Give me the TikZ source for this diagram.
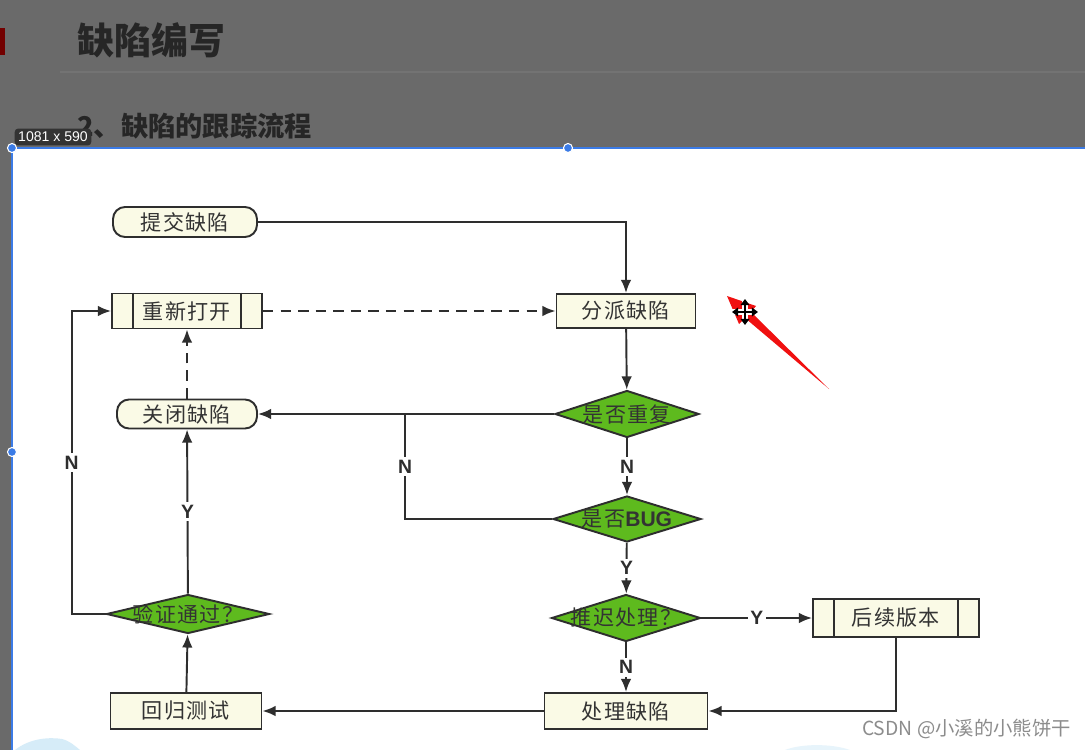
\documentclass[tikz,border=0pt]{standalone}
\usepackage{fontspec}
\setmainfont{Noto Sans CJK SC}
\newfontfamily\cjk{Noto Sans CJK SC}[LetterSpace=6]
\newfontfamily\latin{Liberation Sans}
\usetikzlibrary{shapes.geometric,arrows.meta}
\definecolor{linegray}{HTML}{2E2E2E}
\definecolor{textgray}{HTML}{333333}
\definecolor{boxfill}{HTML}{FAFAE6}
\definecolor{diagreen}{RGB}{94,186,30}
\definecolor{screengray}{HTML}{6A6A6A}
\definecolor{titledark}{HTML}{262626}
\definecolor{selblue}{HTML}{3B7BE6}
\definecolor{markred}{HTML}{F01010}
\definecolor{cloudblue}{HTML}{D6ECF8}
\def\dz#1{\makebox[0pt]{#1}}

\begin{document}
\begin{tikzpicture}[x=0.02cm,y=-0.02cm,
    box/.style={draw=linegray,line width=1.1pt,fill=boxfill,text=textgray,
      font=\cjk\fontsize{12}{12}\selectfont,inner sep=0pt},
    rbox/.style={box,rounded corners=0.24cm},
    dia/.style={box,diamond,fill=diagreen,aspect=3},
    flow/.style={draw=linegray,line width=1.1pt,-{Latex[length=7.5pt,width=6pt]}},
    plain/.style={draw=linegray,line width=1.1pt},
    lbl/.style={fill=white,text=linegray,inner sep=1.5pt,
      font=\latin\bfseries\fontsize{11}{11}\selectfont}]
% screenshot around the chart
\useasboundingbox (0,0) rectangle (1085,750);
\fill[screengray] (0,0) rectangle (1085,750);
\fill[white] (12,148) rectangle (1085,750);
\fill[red!45!black] (0,28) rectangle (5,55);
\draw[screengray!94!white,line width=0.6pt] (60,72) -- (1085,72);
\node[anchor=west,inner sep=0pt,text=titledark,font=\bfseries\fontsize{21}{21}\selectfont] (ttl) at (77,40) {缺陷编写};
\node[anchor=west,inner sep=0pt,text=titledark,font=\bfseries\fontsize{15.5}{16}\selectfont] (sub) at (77,126) {2、缺陷的跟踪流程};
\fill[cloudblue] (15,750) .. controls (30,738) and (50,737) .. (62,739) .. controls (70,741) and (75,746) .. (80,750) -- cycle;
\fill[cloudblue!60!white] (785,750) .. controls (800,744) and (830,743) .. (850,750) -- cycle;
\draw[selblue,line width=1pt] (12,750) -- (12,148) -- (1085,148);
\node[fill=black!80,rounded corners=2pt,text=white,inner sep=2pt,
  font=\latin\fontsize{8}{8}\selectfont] (tag) at (53,137) {1081 x 590};
\foreach \hx/\hy in {12/148,568/148,12/452}
  \filldraw[fill=selblue,draw=white,line width=0.6pt] (\hx,\hy) circle (0.09cm);

% flowchart nodes
\node[rbox,minimum width=2.88cm,minimum height=0.6cm] (submit) at (185,222) {提交缺陷};
\node[box,minimum width=3.0cm,minimum height=0.7cm] (reopen) at (187,311) {重新打开};
\node[box,minimum width=2.78cm,minimum height=0.68cm] (assign) at (626,311) {分派缺陷};
\node[rbox,minimum width=2.8cm,minimum height=0.58cm] (close) at (187,414) {关闭缺陷};
\node[dia,minimum width=2.88cm,minimum height=0.94cm] (dup) at (627,414) {\dz{是否重复}};
\node[dia,minimum width=2.96cm,minimum height=0.92cm] (bug) at (627,519) {\dz{是否{\latin\bfseries BUG}}};
\node[dia,minimum width=2.98cm,minimum height=0.94cm] (defer) at (626,618) {\dz{推迟处理？}};
\node[box,minimum width=3.32cm,minimum height=0.76cm] (later) at (896,618) {后续版本};
\node[dia,minimum width=3.26cm,minimum height=0.78cm] (verify) at (188,614) {\dz{验证通过？}};
\node[box,minimum width=3.02cm,minimum height=0.72cm] (regress) at (186,711) {回归测试};
\node[box,minimum width=3.26cm,minimum height=0.72cm] (handle) at (626,711) {处理缺陷};
\coordinate (join) at (405,414);

% side bars of the two process boxes
\foreach \n in {reopen,later} {
  \draw[plain] ([xshift=0.44cm]\n.north west) -- ([xshift=0.44cm]\n.south west);
  \draw[plain] ([xshift=-0.44cm]\n.north east) -- ([xshift=-0.44cm]\n.south east);
}

% connectors
\draw[flow] (submit.east) -| (assign.north);
\draw[flow,dashed,dash pattern=on 6pt off 4pt] (reopen.east) -- (assign.west);
\draw[flow] (assign) -- (dup);
\draw[flow] (dup.west) -- (close.east);
\draw[flow] (dup) -- node[lbl]{N} (bug);
\draw[plain] (bug.west) -| node[lbl,pos=0.75]{N} (join);
\draw[flow] (bug) -- node[lbl]{Y} (defer);
\draw[flow] (defer.east) -- node[lbl]{Y} (later.west);
\draw[flow] (defer) -- node[lbl]{N} (handle);
\draw[flow] (later.south) |- (handle.east);
\draw[flow] (handle.west) -- (regress.east);
\draw[flow] (regress) -- (verify);
\draw[flow] (verify) -- node[lbl]{Y} (close);
\draw[flow] (verify.west) -- ++(-34,0) |- node[lbl,pos=0.25]{N} (reopen.west);
\draw[flow,dashed,dash pattern=on 6pt off 4pt] (close) -- (reopen);

% pointer arrow and cursor
\fill[markred] (727,296) -- (756,306) -- (751,312) -- (829,389) -- (745,318) -- (739,324) -- cycle;
\draw[white,line width=3pt] (745,298) -- (745,326) (731,312) -- (759,312);
\draw[black,line width=1.4pt,{Triangle[length=3.5pt,width=5pt]}-{Triangle[length=3.5pt,width=5pt]}] (745,299) -- (745,325);
\draw[black,line width=1.4pt,{Triangle[length=3.5pt,width=5pt]}-{Triangle[length=3.5pt,width=5pt]}] (732,312) -- (758,312);

% watermark
\node[anchor=east,inner sep=0pt,text=black!45,font=\fontsize{11}{11}\selectfont] (mark) at (1071,729) {CSDN @小溪的小熊饼干};
\end{tikzpicture}
\end{document}
